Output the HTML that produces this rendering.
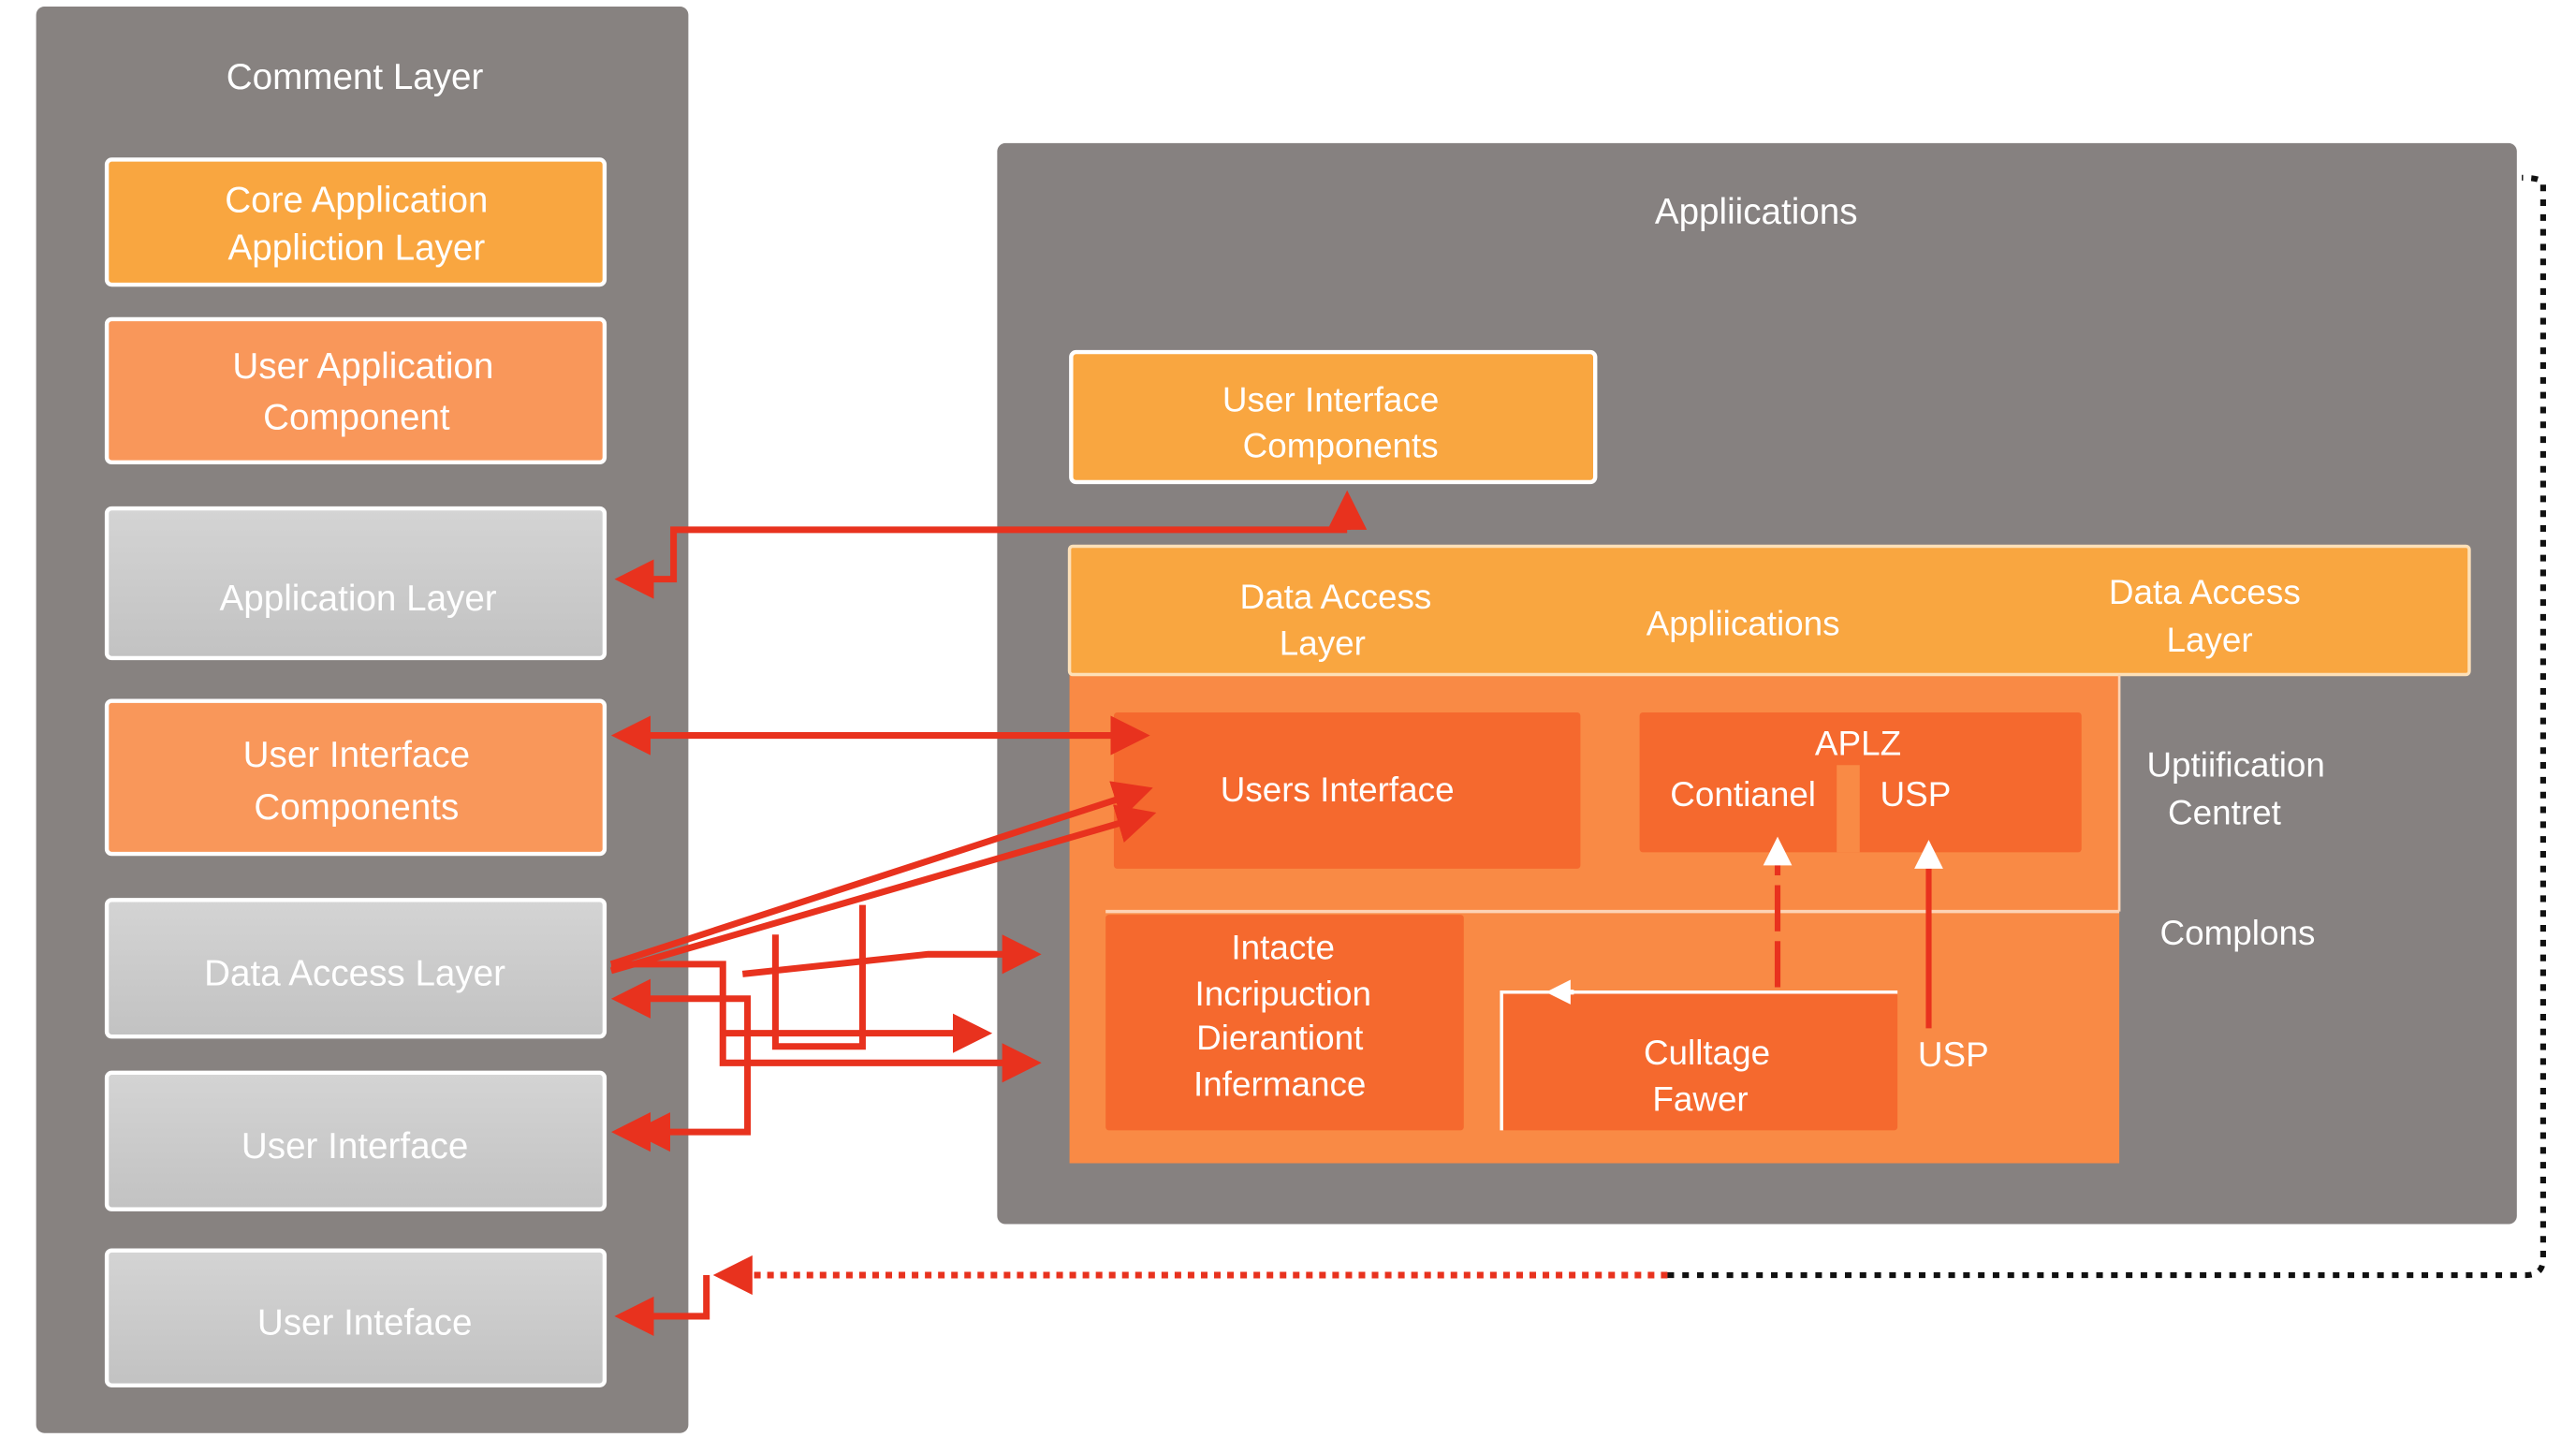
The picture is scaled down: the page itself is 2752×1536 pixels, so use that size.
<!DOCTYPE html>
<html><head><meta charset="utf-8"><style>html,body{margin:0;padding:0;background:#fff}svg{display:block}</style></head>
<body>
<svg width="2752" height="1536" viewBox="0 0 1568 874" preserveAspectRatio="none" xmlns="http://www.w3.org/2000/svg" font-family="Liberation Sans, sans-serif" text-anchor="middle" fill="#fff">
<defs>
<linearGradient id="g" x1="0" y1="0" x2="0" y2="1"><stop offset="0" stop-color="#d4d4d4"/><stop offset="1" stop-color="#c2c2c2"/></linearGradient>
<marker id="a" markerWidth="6" markerHeight="6" refX="5" refY="3" orient="auto-start-reverse" markerUnits="strokeWidth"><path d="M0,0L6,3L0,6z" fill="#e8321e"/></marker>
<marker id="w" markerWidth="5" markerHeight="5" refX="4" refY="2.5" orient="auto" markerUnits="strokeWidth"><path d="M0,0L5,2.5L0,5z" fill="#fff"/></marker>
</defs>
<rect x="22" y="4" width="397" height="867" rx="5" fill="#878280"/>
<text x="216" y="54" font-size="22">Comment Layer</text>
<g stroke="#fff" stroke-width="2.5">
<rect x="65" y="97" width="303" height="76" rx="3" fill="#f9a640"/>
<rect x="65" y="194" width="303" height="87" rx="3" fill="#f9975a"/>
<rect x="65" y="309" width="303" height="91" rx="3" fill="url(#g)"/>
<rect x="65" y="426" width="303" height="93" rx="3" fill="#f9975a"/>
<rect x="65" y="547" width="303" height="83" rx="3" fill="url(#g)"/>
<rect x="65" y="652" width="303" height="83" rx="3" fill="url(#g)"/>
<rect x="65" y="760" width="303" height="82" rx="3" fill="url(#g)"/>
</g>
<g font-size="22">
<text x="217" y="129">Core Application</text><text x="217" y="158">Appliction Layer</text>
<text x="221" y="230">User Application</text><text x="217" y="261">Component</text>
<text x="218" y="371">Application Layer</text>
<text x="217" y="466">User Interface</text><text x="217" y="498">Components</text>
<text x="216" y="599">Data Access Layer</text>
<text x="216" y="704">User Interface</text>
<text x="222" y="811">User Inteface</text>
</g>
<rect x="607" y="87" width="925" height="657" rx="5" fill="#868180"/>
<text x="1069" y="136" font-size="22">Appliications</text>
<rect x="652" y="214" width="319" height="79" rx="3" fill="#f9a640" stroke="#fff" stroke-width="2.5"/>
<text x="810" y="250" font-size="21">User Interface</text><text x="816" y="278" font-size="21">Components</text>
<rect x="651" y="410" width="639" height="297" fill="#f98a45"/>
<rect x="651" y="332" width="852" height="78" rx="2" fill="#f9a640" stroke="#fde0b8" stroke-width="2"/>
<line x1="673" y1="554" x2="1290" y2="554" stroke="#fdd3b5" stroke-width="2"/>
<line x1="1290" y1="410" x2="1290" y2="554" stroke="#fdd3b5" stroke-width="1.5"/>
<g font-size="21">
<text x="813" y="370">Data Access</text><text x="805" y="398">Layer</text>
<text x="1061" y="386">Appliications</text>
<text x="1342" y="367">Data Access</text><text x="1345" y="396">Layer</text>
</g>
<g fill="#f5692e">
<rect x="678" y="433" width="284" height="95" rx="2"/>
<rect x="998" y="433" width="269" height="85" rx="2"/>
<rect x="673" y="556" width="218" height="131" rx="2"/>
<rect x="914" y="603" width="241" height="84" rx="2"/>
</g>
<line x1="1125" y1="465" x2="1125" y2="518" stroke="#f98a45" stroke-width="14"/>
<path d="M914,687V603H1155" fill="none" stroke="#fff" stroke-width="2"/>
<g font-size="21">
<text x="814" y="487">Users Interface</text>
<text x="1131" y="459">APLZ</text>
<text x="1061" y="490">Contianel</text><text x="1166" y="490">USP</text>
<text x="781" y="583">Intacte</text><text x="781" y="611">Incripuction</text><text x="779" y="638">Dierantiont</text><text x="779" y="666">Infermance</text>
<text x="1039" y="647">Culltage</text><text x="1035" y="675">Fawer</text>
<text x="1189" y="648">USP</text>
<text x="1361" y="472">Uptiification</text><text x="1354" y="501">Centret</text>
<text x="1362" y="574">Complons</text>
</g>
<path d="M958,603H944" stroke="#fff" stroke-width="3" marker-end="url(#w)"/>
<path d="M1082,600V512" stroke="#e8321e" stroke-width="3.5" stroke-dasharray="28,6" marker-end="url(#w)"/>
<path d="M1174,625V514" stroke="#e8321e" stroke-width="3.5" marker-end="url(#w)"/>
<g fill="none" stroke="#e8321e" stroke-width="4">
<path d="M820,322V302" marker-end="url(#a)"/>
<path d="M820,322H410V352H378" marker-end="url(#a)"/>
<path d="M376,447H696" marker-end="url(#a)" marker-start="url(#a)"/>
<path d="M372,586L698,480" marker-end="url(#a)"/>
<path d="M372,590L700,495" marker-end="url(#a)"/>
<path d="M376,607H455V688H376" marker-end="url(#a)" marker-start="url(#a)"/>
<path d="M396,688H388" marker-end="url(#a)"/>
<path d="M372,586H440V646H630" marker-end="url(#a)"/>
<path d="M440,628H600" marker-end="url(#a)"/>
<path d="M452,592L565,580H630" marker-end="url(#a)"/>
<path d="M472,568V636H525V550"/>
<path d="M1015,775H440" stroke-dasharray="4,4"/>
<path d="M448,775H438" marker-end="url(#a)"/>
<path d="M430,775V800H378" marker-end="url(#a)"/>
</g>
<path d="M1015,775H1538Q1548,775 1548,765V112Q1548,108 1535,108" fill="none" stroke="#111" stroke-width="3.5" stroke-dasharray="4,5"/>
</svg>
</body></html>
